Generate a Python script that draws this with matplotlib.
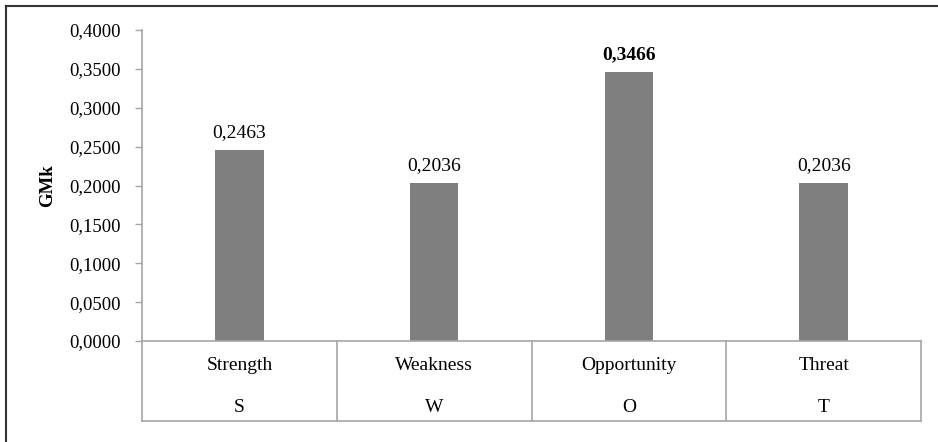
import matplotlib.pyplot as plt
from matplotlib.ticker import FuncFormatter

# data
categories = ['Strength', 'Weakness', 'Opportunity', 'Threat']
codes = ['S', 'W', 'O', 'T']
gmk = [0.2463, 0.2036, 0.3466, 0.2036]
bold_label = 'Opportunity'

W, H = 938, 442
fig = plt.figure(figsize=(W / 100, H / 100), dpi=100)
plt.rcParams['font.family'] = ['Liberation Serif', 'DejaVu Serif']

# outer border (only left and top are visible in the reference)
fig.add_artist(plt.Line2D([5.5 / W, 5.5 / W], [0, 1 - 6 / H], color='#333333', lw=1.5))
fig.add_artist(plt.Line2D([5.5 / W, 1], [1 - 6 / H, 1 - 6 / H], color='#333333', lw=1.5))

left, right, top, zero = 142, 921, 30, 341
ax = fig.add_axes([left / W, 1 - zero / H, (right - left) / W, (zero - top) / H])

x = range(len(categories))
ax.bar(x, gmk, width=0.25, color='#7f7f7f')
ax.set_xlim(-0.5, len(categories) - 0.5)
ax.set_ylim(0, 0.4)
ax.set_yticks([i * 0.05 for i in range(9)])
ax.yaxis.set_major_formatter(FuncFormatter(lambda v, p: f'{v:.4f}'.replace('.', ',')))
ax.tick_params(axis='y', length=5, width=1, color='#a6a6a6', labelsize=13.5, pad=10)
ax.set_xticks([])

for s in ['top', 'right']:
    ax.spines[s].set_visible(False)
for s in ['left', 'bottom']:
    ax.spines[s].set_color('#a6a6a6')
    ax.spines[s].set_linewidth(1.2)

ax.set_ylabel('GMk', fontsize=13.5, fontweight='bold', labelpad=10)

# value labels
for i, v in enumerate(gmk):
    weight = 'bold' if categories[i] == bold_label else 'normal'
    ax.text(i, v + 0.011, f'{v:.4f}'.replace('.', ','), ha='center', va='bottom',
            fontsize=14, fontweight=weight)

# category table under the axis
ph = zero - top
tbl_bottom = -(421 - zero) / ph
xt = ax.get_xaxis_transform()
line_kw = dict(color='#a6a6a6', lw=1.2, clip_on=False, transform=xt)
ax.plot([-0.5, -0.5], [0, tbl_bottom], **line_kw)
ax.plot([-0.5, len(categories) - 0.5], [tbl_bottom, tbl_bottom], **line_kw)
for i in range(len(categories)):
    ax.plot([i + 0.5, i + 0.5], [0, tbl_bottom], **line_kw)
    ax.text(i, -(366 - zero) / ph, categories[i], ha='center', va='center', fontsize=14,
            transform=xt)
    ax.text(i, -(407 - zero) / ph, codes[i], ha='center', va='center', fontsize=14,
            transform=xt)

plt.savefig('out.png', dpi=100)
